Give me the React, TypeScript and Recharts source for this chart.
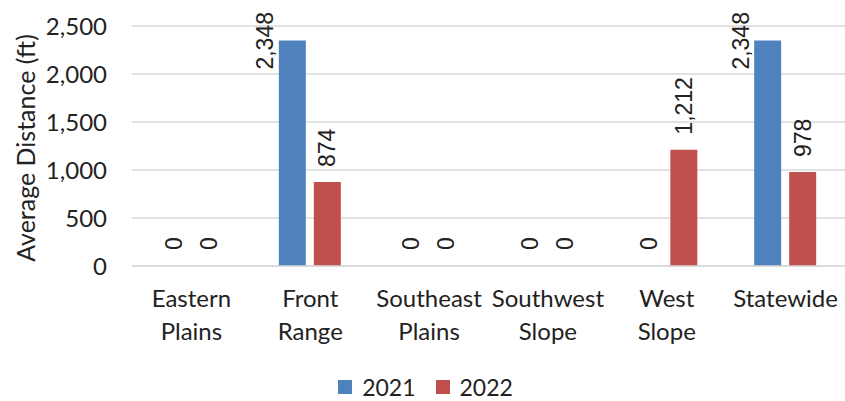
import { BarChart, Bar, XAxis, YAxis, CartesianGrid, Legend, LabelList, Rectangle } from "recharts";

// regions along the x axis, two-word names wrap onto two lines
const regions = ["Eastern Plains", "Front Range", "Southeast Plains", "Southwest Slope", "West Slope", "Statewide"];
const distance2021 = [0, 2348, 0, 0, 0, 2348];
const distance2022 = [0, 874, 0, 0, 1212, 978];
const yTicks = [0, 500, 1000, 1500, 2000, 2500];

const data = regions.map((name, i) => ({
  name,
  y2021: distance2021[i],
  y2022: distance2022[i],
}));

const BLUE = "#4F81BD";
const RED = "#C0504D";
const TEXT = "#222";
const AXIS_FONT = "Lato, 'Open Sans', sans-serif";
const LABEL_FONT = "'Liberation Sans', Arial, sans-serif";
const fmt = (v: number) => v.toLocaleString("en-US");

function RegionTick(props: any) {
  const { x, y, payload } = props;
  const words = String(payload.value).split(" ");
  return (
    <text x={x} y={y} textAnchor="middle" fill={TEXT} fontSize={24} fontFamily={AXIS_FONT}>
      {words.map((w, i) => (
        <tspan key={i} x={x} dy={33}>
          {w}
        </tspan>
      ))}
    </text>
  );
}

// zero values still get a 1px slot (minPointSize) so their label shows, but no visible bar
const barShape = (key: "y2021" | "y2022") => (props: any) =>
  props.payload[key] > 0 ? <Rectangle {...props} /> : <g />;

// rotated value label above the bar; when it would run off the top it sits beside the bar
function ValueLabel(props: any) {
  const { x, y, width, value } = props;
  const text = fmt(Number(value));
  const cx = x + width / 2;
  const textLen = text.length * 12.6;
  let lx = cx;
  let ly = y - 15;
  if (ly - textLen < 0) {
    lx = cx - 27;
    ly = y + 29;
  }
  return (
    <text
      x={lx}
      y={ly}
      transform={`rotate(-90, ${lx}, ${ly})`}
      textAnchor="start"
      dominantBaseline="central"
      fill={TEXT}
      fontSize={23}
      fontFamily={LABEL_FONT}
    >
      {text}
    </text>
  );
}

function AxisTitle(props: any) {
  const { viewBox } = props;
  const x = viewBox.x + 25;
  const y = viewBox.y + viewBox.height / 2 + 2;
  return (
    <text
      x={x}
      y={y}
      transform={`rotate(-90, ${x}, ${y})`}
      textAnchor="middle"
      dominantBaseline="central"
      fill={TEXT}
      fontSize={25}
      fontFamily={AXIS_FONT}
    >
      Average Distance (ft)
    </text>
  );
}

function SeriesLegend(props: any) {
  const { payload } = props;
  return (
    <div style={{ display: "flex", justifyContent: "center", gap: 20, paddingTop: 13, paddingLeft: 6 }}>
      {payload.map((item: any) => (
        <div key={item.value} style={{ display: "flex", alignItems: "center", gap: 10 }}>
          <span style={{ width: 14, height: 14, background: item.color, display: "inline-block" }} />
          <span style={{ fontSize: 23, fontFamily: AXIS_FONT, color: TEXT, lineHeight: "26px" }}>{item.value}</span>
        </div>
      ))}
    </div>
  );
}

export default function App() {
  return (
    <div style={{ position: "absolute", left: 0, top: 0, width: 845, height: 401, background: "#fff" }}>
      <BarChart
        width={845}
        height={401}
        data={data}
        margin={{ top: 26, right: 0, left: 0, bottom: 0 }}
        barSize={27}
        barGap={8}
      >
        <CartesianGrid vertical={false} stroke="#d9d9d9" strokeWidth={1.5} />
        <XAxis
          dataKey="name"
          interval={0}
          height={95}
          tickLine={false}
          axisLine={{ stroke: "#d9d9d9", strokeWidth: 1.5 }}
          tick={<RegionTick />}
        />
        <YAxis
          width={132}
          domain={[0, 2500]}
          ticks={yTicks}
          tickFormatter={fmt}
          axisLine={false}
          tickLine={false}
          tickSize={0}
          tickMargin={25}
          tick={{ fill: TEXT, fontSize: 24, fontFamily: AXIS_FONT }}
          label={<AxisTitle />}
        />
        <Legend verticalAlign="bottom" height={40} content={<SeriesLegend />} />
        <Bar
          dataKey="y2021"
          name="2021"
          fill={BLUE}
          minPointSize={1}
          shape={barShape("y2021")}
          isAnimationActive={false}
        >
          <LabelList dataKey="y2021" content={<ValueLabel />} />
        </Bar>
        <Bar
          dataKey="y2022"
          name="2022"
          fill={RED}
          minPointSize={1}
          shape={barShape("y2022")}
          isAnimationActive={false}
        >
          <LabelList dataKey="y2022" content={<ValueLabel />} />
        </Bar>
      </BarChart>
    </div>
  );
}
